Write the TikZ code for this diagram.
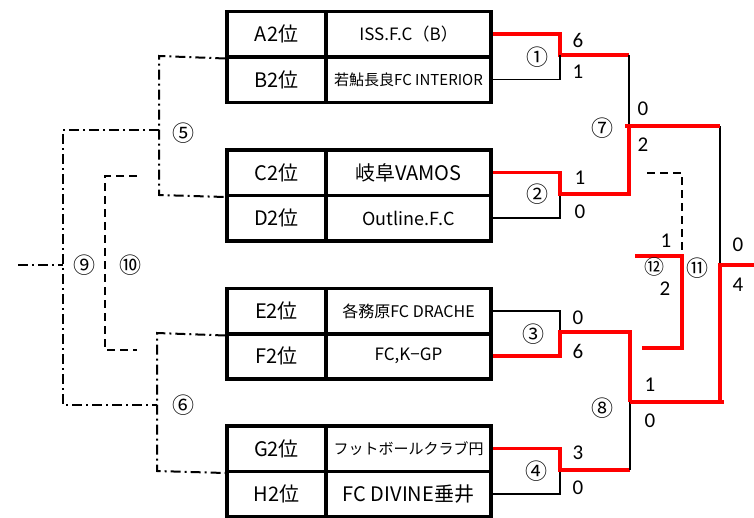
\documentclass[tikz,border=0pt]{standalone}
\usepackage{fontspec}
\setmainfont{Noto Sans CJK JP}
\newfontfamily\scorefont{Carlito}
\newcommand{\fsz}[1]{\fontsize{#1}{#1}\selectfont}
\begin{document}
\begin{tikzpicture}[x=1pt,y=-1pt,
  lab/.style={draw,line width=3.5pt,minimum width=99pt,minimum height=45.5pt,inner sep=0pt,font=\fsz{20}},
  team/.style={draw,line width=3.5pt,minimum width=165pt,minimum height=45.5pt,inner sep=0pt,font=\fsz{18}},
  win/.style={draw=red,line width=3.5pt},
  lose/.style={draw=black,line width=1.5pt},
  dd/.style={draw=black,line width=2pt,dash pattern=on 10pt off 4pt on 2pt off 4pt},
  dsh/.style={draw=black,line width=2pt,dash pattern=on 8pt off 5pt},
  score/.style={font=\scorefont\fsz{21},inner sep=0pt},
  circ/.style={font=\fsz{22},inner sep=0pt}]
\useasboundingbox (0,0) rectangle (754,517);
% left bracket coordinates
\coordinate (p5t) at (159,56);
\coordinate (p5b) at (159,195);
\coordinate (p6t) at (157,333);
\coordinate (p6b) at (157,471);
\coordinate (p9t) at (63,130);
\coordinate (p9b) at (63,405);
\coordinate (p9s) at (18,265);
\coordinate (p10t) at (105,176);
\coordinate (p10b) at (105,350);
\coordinate (p10te) at (137,176);
\coordinate (p10be) at (137,350);
% tables
\node[lab] (lA) at (276.5,34) {A2位};
\node[team,font=\fsz{17}] (tA) at (408.5,34) {ISS.F.C（B）};
\node[lab] (lB) at (276.5,79.5) {B2位};
\node[team,font=\fsz{15}] (tB) at (408.5,79.5) {若鮎長良FC INTERIOR};
\node[lab] (lC) at (276.5,172.5) {C2位};
\node[team,font=\fsz{20}] (tC) at (408.5,172.5) {岐阜VAMOS};
\node[lab] (lD) at (276.5,218) {D2位};
\node[team] (tD) at (408.5,218) {Outline.F.C};
\node[lab] (lE) at (276.5,311) {E2位};
\node[team,font=\fsz{16}] (tE) at (408.5,311) {各務原FC DRACHE};
\node[lab] (lF) at (276.5,356) {F2位};
\node[team,font=\fsz{17}] (tF) at (408.5,356) {FC,K−GP};
\node[lab] (lG) at (276.5,448.5) {G2位};
\node[team,font=\fsz{15}] (tG) at (408.5,448.5) {フットボールクラブ円};
\node[lab] (lH) at (276.5,494) {H2位};
\node[team,font=\fsz{20}] (tH) at (408.5,494) {FC DIVINE垂井};
% left brackets
\draw[dd] (lA.south west) -- (p5t) -- (p5b) -- (lC.south west);
\draw[dd] (lE.south west) -- (p6t) -- (p6b) -- (lG.south west);
\draw[dd] (p5t |- p9t) -- (p9t) -- (p9b) -- (p6t |- p9b);
\draw[dd] (p9s) -- (p9t |- p9s);
\draw[dsh] (p10te) -- (p10t) -- (p10b) -- (p10be);
\node[circ] (c5) at (183,133) {⑤};
\node[circ] (c6) at (183,405) {⑥};
\node[circ] (c9) at (84,265) {⑨};
\node[circ] (c10) at (130,265) {⑩};
% right bracket coordinates
\coordinate (j1) at (560,55);
\coordinate (j2) at (560,194);
\coordinate (j3) at (560,332);
\coordinate (j4) at (560,470);
\coordinate (k7) at (629,126);
\coordinate (k8) at (630,402);
\coordinate (k11) at (720,265);
\coordinate (fin) at (754,265);
% match 1
\draw[win] (tA.east) -- (tA.east -| j1) -- (j1) -- (k7 |- j1);
\draw[lose] (tB.east) -- (tB.east -| j1) -- (j1);
% match 2
\draw[lose] (tD.east) -- (tD.east -| j2) -- (j2);
\draw[win] (tC.east) -- (tC.east -| j2) -- (j2) -- (k7 |- j2) -- (k7);
% match 3
\draw[lose] (tE.east) -- (tE.east -| j3) -- (j3);
\draw[win] (tF.east) -- (tF.east -| j3) -- (j3) -- (k8 |- j3) -- (k8);
% match 4
\draw[lose] (tH.east) -- (tH.east -| j4) -- (j4);
\draw[win] (tG.east) -- (tG.east -| j4) -- (j4) -- (k8 |- j4);
\draw[lose] (k8 |- j4) -- (k8);
% match 7 / 8 / final
\draw[lose] (k7 |- j1) -- (k7);
\draw[lose] (k7 -| k11) -- (k11);
\draw[win] ([xshift=-4pt]k7) -- (k7 -| k11);
\draw[win] (k8) -- ([xshift=4pt]k8 -| k11);
\draw[win] (k8 -| k11) -- (k11) -- (fin);
% third-place
\coordinate (t1) at (647,173);
\coordinate (t2) at (682,173);
\coordinate (t3) at (682,256);
\coordinate (t4) at (682,348);
\coordinate (t5) at (635,256);
\coordinate (t6) at (642,348);
\draw[dsh] (t1) -- (t2) -- (t3);
\draw[win] (t5) -- (t3) -- (t4) -- (t6);
% circled numbers
\node[circ] (c1) at (537,57) {①};
\node[circ] (c2) at (537,194) {②};
\node[circ] (c3) at (533,334) {③};
\node[circ] (c4) at (536,471) {④};
\node[circ] (c7) at (602,128) {⑦};
\node[circ] (c8) at (602,408) {⑧};
\node[circ,font=\fsz{20}] (c12) at (654,267) {⑫};
\node[circ] (c11) at (697,268) {⑪};
% scores
\node[score] at (578,40) {6};
\node[score] at (578,72) {1};
\node[score] at (580,178) {1};
\node[score] at (580,212) {0};
\node[score] at (643,109) {0};
\node[score] at (643,145) {2};
\node[score] at (578,318) {0};
\node[score] at (578,351) {6};
\node[score] at (650,385) {1};
\node[score] at (650,421) {0};
\node[score] at (578,453) {3};
\node[score] at (578,488) {0};
\node[score] at (666,241) {1};
\node[score] at (665,289) {2};
\node[score] at (738,245) {0};
\node[score] at (738,285) {4};
\end{tikzpicture}
\end{document}
